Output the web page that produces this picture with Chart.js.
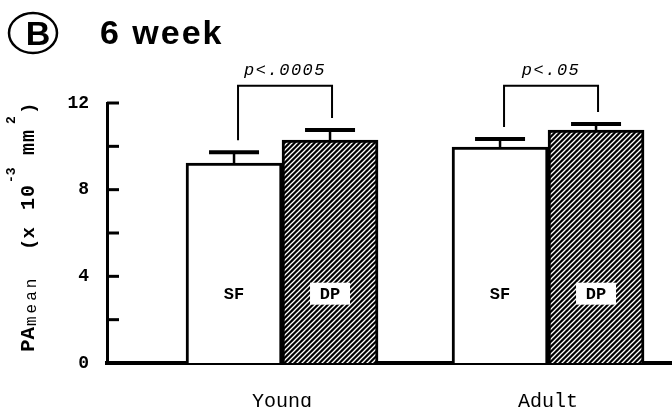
<!DOCTYPE html>
<html>
<head>
<meta charset="utf-8">
<script src="https://cdn.jsdelivr.net/npm/chart.js@4.4.1/dist/chart.umd.min.js"></script>
<style>
  body { margin: 0; background: #fff; }
  canvas { display: block; }
</style>
</head>
<body>
<canvas id="chart" width="672" height="407"></canvas>
<script>
// data
var categories = ['Young', 'Adult'];
var groups = ['SF', 'DP'];
var sfMeans = [9.23, 9.97];
var sfErrors = [0.5, 0.37];
var dpMeans = [10.29, 10.75];
var dpErrors = [0.46, 0.28];
var pLabels = ['p<.0005', 'p<.05'];
var yTickLabels = [0, 4, 8, 12];

var mono = '"Liberation Mono", "DejaVu Sans Mono", monospace';
var sans = '"Liberation Sans", Arial, sans-serif';

//Hatch pattern for the DP bars
function hatch() {
  var c = document.createElement('canvas');
  c.width = 5;
  c.height = 5;
  var g = c.getContext('2d');
  g.fillStyle = '#000';
  g.fillRect(0, 0, 5, 5);
  g.strokeStyle = '#fff';
  g.lineWidth = 1.3;
  g.beginPath();
  g.moveTo(-1, 6); g.lineTo(6, -1);
  g.moveTo(-1, 1); g.lineTo(1, -1);
  g.moveTo(4, 6); g.lineTo(6, 4);
  g.stroke();
  return g.createPattern(c, 'repeat');
}

function points(values) {
  return values.map(function(v, i) { return { x: i, y: v }; });
}

//Error bars, brackets, p-values and group labels
var extras = {
  id: 'extras',
  afterDatasetsDraw: function(chart) {
    var ctx = chart.ctx;
    var y = chart.scales.y;
    var area = chart.chartArea;
    var errs = [sfErrors, dpErrors];
    var means = [sfMeans, dpMeans];
    ctx.save();
    ctx.strokeStyle = '#000';

    // inner ticks on the y axis
    ctx.lineWidth = 3;
    y.ticks.forEach(function(t) {
      var py = y.getPixelForValue(t.value);
      ctx.beginPath();
      ctx.moveTo(area.left, py);
      ctx.lineTo(area.left + 12, py);
      ctx.stroke();
    });

    var tops = [[], []];
    [0, 1].forEach(function(d) {
      chart.getDatasetMeta(d).data.forEach(function(bar, i) {
        var top = y.getPixelForValue(means[d][i] + errs[d][i]);
        tops[d][i] = { x: bar.x, y: top };
        ctx.lineWidth = 2.5;
        ctx.beginPath();
        ctx.moveTo(bar.x, bar.y);
        ctx.lineTo(bar.x, top);
        ctx.stroke();
        ctx.lineWidth = 4;
        ctx.beginPath();
        ctx.moveTo(bar.x - 25, top);
        ctx.lineTo(bar.x + 25, top);
        ctx.stroke();

        // group label
        var ly = y.getPixelForValue(3.2);
        ctx.font = 'bold 17px ' + mono;
        ctx.textAlign = 'center';
        ctx.textBaseline = 'middle';
        if (d === 1) {
          ctx.fillStyle = '#fff';
          ctx.fillRect(bar.x - 20, ly - 11, 40, 22);
        }
        ctx.fillStyle = '#000';
        ctx.fillText(groups[d], bar.x, ly + 1);
      });
    });

    // brackets
    var level = y.getPixelForValue(12.8);
    ctx.lineWidth = 2;
    categories.forEach(function(c, i) {
      var l = tops[0][i], r = tops[1][i];
      ctx.beginPath();
      ctx.moveTo(l.x + 4, l.y - 12);
      ctx.lineTo(l.x + 4, level);
      ctx.lineTo(r.x + 2, level);
      ctx.lineTo(r.x + 2, r.y - 12);
      ctx.stroke();
      ctx.font = 'italic 17px ' + mono;
      ctx.letterSpacing = '1.5px';
      ctx.textAlign = 'center';
      ctx.textBaseline = 'middle';
      ctx.fillStyle = '#000';
      ctx.fillText(pLabels[i], (l.x + r.x) / 2 + 3, level - 15);
      ctx.letterSpacing = '0px';
    });
    ctx.restore();
  },
  afterDraw: function(chart) {
    var ctx = chart.ctx;
    ctx.save();
    ctx.fillStyle = '#000';
    ctx.strokeStyle = '#000';

    // panel letter
    ctx.lineWidth = 2.5;
    ctx.beginPath();
    ctx.ellipse(33, 33, 24, 20, 0, 0, Math.PI * 2);
    ctx.stroke();
    ctx.font = 'bold 34px ' + sans;
    ctx.textAlign = 'center';
    ctx.textBaseline = 'alphabetic';
    ctx.fillText('B', 38, 45);

    ctx.textAlign = 'left';
    ctx.letterSpacing = '2px';
    ctx.fillText('6 week', 100, 44);
    ctx.letterSpacing = '0px';

    // y axis title, drawn piece by piece
    ctx.translate(34, 352);
    ctx.rotate(-Math.PI / 2);
    var parts = [
      ['PA', 'bold 21px ' + mono, 0, 0, '0px'],
      ['mean', '16px ' + mono, 26, 2, '3px'],
      ['(x', 'bold 19px ' + mono, 102, 0, '0px'],
      ['10', 'bold 20px ' + mono, 142, 0, '1px'],
      ['-3', 'bold 13px ' + mono, 169, -19, '0px'],
      ['mm', 'bold 20px ' + mono, 197, 0, '1px'],
      ['2', 'bold 13px ' + mono, 228, -19, '0px'],
      [')', 'bold 19px ' + mono, 238, 0, '0px']
    ];
    parts.forEach(function(p) {
      ctx.font = p[1];
      ctx.letterSpacing = p[4];
      ctx.fillText(p[0], p[2], p[3]);
    });
    ctx.restore();
  }
};

var ctx = document.getElementById('chart').getContext('2d');

var myChart = new Chart(ctx, {
  type: 'bar',
  data: {
    datasets: [{
      label: groups[0],
      data: points(sfMeans),
      backgroundColor: '#fff',
      borderColor: '#000',
      borderWidth: 3,
      borderSkipped: 'bottom',
      barThickness: 96
    }, {
      label: groups[1],
      data: points(dpMeans),
      backgroundColor: hatch(),
      borderColor: '#000',
      borderWidth: 3,
      borderSkipped: 'bottom',
      barThickness: 96
    }]
  },
  options: {
    responsive: false,
    animation: false,
    devicePixelRatio: 1,
    layout: { padding: { top: 103, left: 0, right: 0, bottom: 0 } },
    plugins: {
      legend: { display: false },
      tooltip: { enabled: false },
      title: { display: false }
    },
    scales: {
      x: {
        type: 'linear',
        offset: false,
        min: -0.658,
        max: 1.466,
        grid: { display: false, offset: false, drawTicks: false },
        border: { display: true, color: '#000', width: 4 },
        afterBuildTicks: function(s) {
          s.ticks = categories.map(function(c, i) { return { value: i }; });
        },
        afterFit: function(s) { s.height = 44; },
        ticks: {
          color: '#000',
          padding: 27,
          maxRotation: 0,
          font: { family: mono, size: 20 },
          callback: function(v) { return categories[v]; }
        }
      },
      y: {
        min: 0,
        max: 12,
        grid: { display: false, drawTicks: false },
        border: { display: true, color: '#000', width: 3 },
        afterFit: function(s) { s.width = 107; },
        ticks: {
          stepSize: 2,
          color: '#000',
          padding: 18,
          font: { family: mono, size: 18, weight: 'bold' },
          callback: function(v) { return yTickLabels.indexOf(v) >= 0 ? v : ''; }
        }
      }
    }
  },
  plugins: [extras]
});
</script>
</body>
</html>
